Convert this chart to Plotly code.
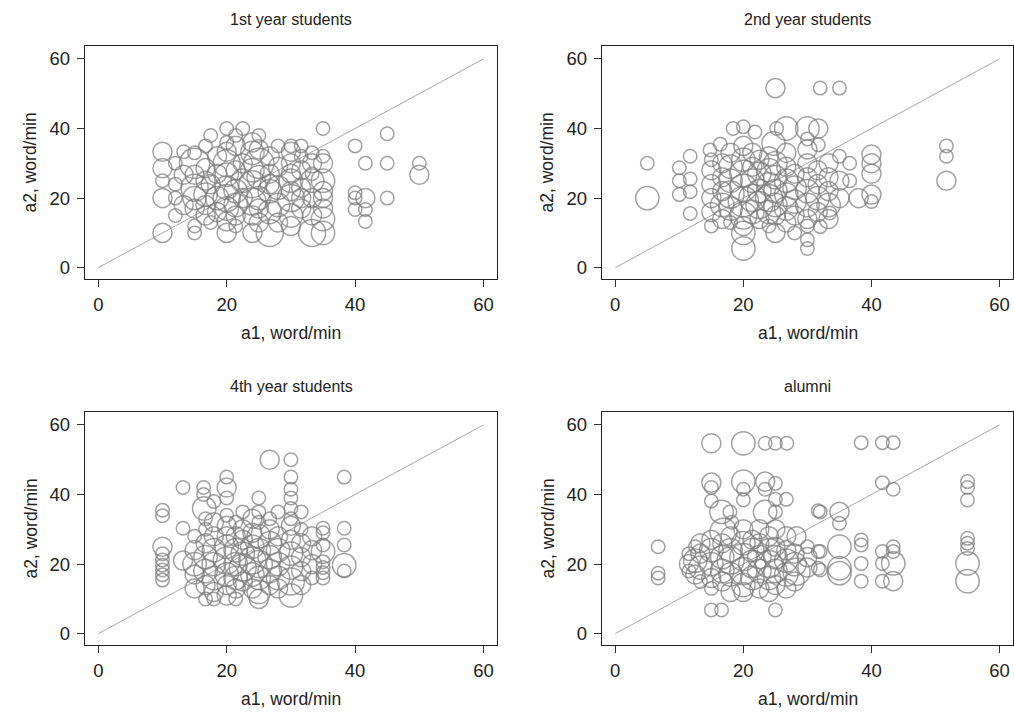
import math
import plotly.graph_objects as go

# ---------------- data: (a1, a2, count) ----------------
TITLES = ["1st year students", "2nd year students", "4th year students", "alumni"]
X_TITLE = "a1, word/min"
Y_TITLE = "a2, word/min"
TICKS = [0, 20, 40, 60]
DIAG = [0, 60]

P1 = [
    (10, 33.3, 2), (10, 28.6, 2), (10, 25, 1), (10, 20, 2), (10, 10, 2),
    (12, 20, 1), (12, 15, 1), (12, 24, 1), (12, 30, 1),
    (13.3, 18, 2), (13.3, 26.7, 2), (13.3, 33.3, 1),
    (15, 10, 1), (15, 12, 1), (15, 17, 2), (15, 20, 3), (15, 23, 4), (15, 26.7, 2), (15, 30, 5), (15, 33, 1),
    (16.7, 15, 2), (16.7, 18, 2), (16.7, 21, 3), (16.7, 25, 2), (16.7, 28.6, 2), (16.7, 35, 1),
    (17.5, 38, 1), (17.5, 13, 1), (17.5, 24, 2),
    (18.5, 20, 3), (18.5, 27, 2), (18.5, 32, 2), (18.5, 16, 2),
    (20, 10, 2), (20, 13.3, 2), (20, 17, 3), (20, 20, 4), (20, 23, 3), (20, 26.7, 3), (20, 30, 4), (20, 33.3, 2), (20, 36, 1), (20, 40, 1),
    (21.4, 12, 1), (21.4, 18, 3), (21.4, 22, 3), (21.4, 28, 2), (21.4, 35, 2), (21.4, 38, 1), (21.4, 15, 2),
    (22.5, 40, 1), (22.5, 25, 3), (22.5, 20, 2), (22.5, 30, 2),
    (24, 10, 2), (24, 15, 2), (24, 19, 4), (24, 24, 4), (24, 28, 3), (24, 33, 3), (24, 36, 2),
    (25, 13, 2), (25, 20, 3), (25, 30, 5), (25, 26, 3), (25, 17, 2), (25, 34, 2), (25, 38, 1),
    (26.7, 10, 4), (26.7, 16, 3), (26.7, 22, 3), (26.7, 27, 2), (26.7, 32, 2), (26.7, 24, 2),
    (28, 18, 3), (28, 23, 3), (28, 29, 2), (28, 35, 1), (28, 13, 2),
    (30, 12, 2), (30, 15, 3), (30, 20, 4), (30, 25, 3), (30, 30, 2), (30, 33.3, 2), (30, 35, 1), (30, 22, 2), (30, 27, 2),
    (31.6, 17, 2), (31.6, 23, 2), (31.6, 28, 2), (31.6, 32, 1), (31.6, 35, 1), (31.6, 20, 2),
    (33.3, 10, 4), (33.3, 15, 2), (33.3, 20, 2), (33.3, 25, 3), (33.3, 30, 2), (33.3, 33, 1), (33.3, 27, 1),
    (35, 10, 3), (35, 14, 3), (35, 17, 2), (35, 22, 2), (35, 25, 3), (35, 30, 2), (35, 32, 1), (35, 40, 1), (35, 20, 2),
    (40, 35, 1), (45, 38.5, 1), (41.6, 30, 1), (45, 30, 1), (50, 30, 1), (50, 26.7, 2),
    (40, 21.5, 1), (40, 20, 1), (41.6, 20, 2), (45, 20, 1), (40, 16.7, 1), (41.6, 16.7, 1), (41.6, 13.3, 1),
]

P2 = [
    (5, 30, 1), (5, 20, 3), (11.7, 32, 1), (10, 28.7, 1), (10, 25, 1), (11.7, 25.5, 1), (11.7, 21.8, 1), (10, 21, 1), (11.7, 15.6, 1),
    (25, 51.6, 2), (32, 51.6, 1), (35, 51.6, 1), (20, 5.5, 3), (30, 5.5, 1),
    (51.7, 35, 1), (51.7, 32, 1), (51.7, 25, 2),
    (40, 32.5, 2), (40, 30, 2), (40, 27, 2), (40, 21, 2), (40, 19, 1), (35, 32, 1), (36.6, 30, 1), (35, 25, 2),
    (36.6, 25, 1), (35, 20, 2), (38, 20, 2), (33.5, 15.7, 1), (32, 11.8, 1),
    (18.4, 40, 1), (20, 40.5, 1), (21.8, 39, 1), (25.2, 40, 1), (26.7, 40, 3), (30, 40, 3), (31.7, 40, 2),
    (16.4, 35.5, 1), (14.8, 33.8, 1), (24.7, 35.7, 3), (30, 37, 1), (31.7, 35.3, 1),
    (15, 12, 1), (15, 16, 2), (15, 20, 2), (15, 24, 2), (15, 28, 2), (15, 31, 1),
    (16.7, 14, 2), (16.7, 18, 3), (16.7, 22, 2), (16.7, 26, 2), (16.7, 30, 2),
    (18, 13, 1), (18, 17, 3), (18, 21, 4), (18, 25, 3), (18, 29, 3), (18, 33, 2),
    (20, 10, 3), (20, 15, 4), (20, 19, 5), (20, 23, 4), (20, 27, 4), (20, 31, 3), (20, 35, 2), (20, 12, 2),
    (21.4, 16, 3), (21.4, 20, 4), (21.4, 25, 3), (21.4, 29, 2), (21.4, 33, 2),
    (22.5, 18, 4), (22.5, 22, 3), (22.5, 27, 3), (22.5, 31, 2), (22.5, 14, 2),
    (24, 12, 1), (24, 16, 3), (24, 20, 4), (24, 24, 3), (24, 28, 3), (24, 32, 2),
    (25, 10, 2), (25, 15, 2), (25, 18, 3), (25, 22, 3), (25, 26, 3), (25, 30, 3),
    (26.7, 13, 2), (26.7, 17, 3), (26.7, 21, 3), (26.7, 25, 3), (26.7, 29, 2), (26.7, 33, 2),
    (28, 15, 2), (28, 19, 3), (28, 23, 3), (28, 27, 2), (28, 10, 1),
    (30, 8, 1), (30, 14, 2), (30, 18, 3), (30, 22, 3), (30, 26, 2), (30, 30, 2), (30, 34, 2), (30, 12, 1),
    (31.6, 16, 2), (31.6, 20, 3), (31.6, 24, 2), (31.6, 28, 2),
    (33.3, 14, 2), (33.3, 18, 3), (33.3, 22, 2), (33.3, 26, 2), (33.3, 30, 2),
]

P3 = [
    (10, 35.5, 1), (10, 33.9, 1), (10, 25, 2), (10, 23, 1), (10, 21.2, 1), (10, 19.7, 1), (10, 18.3, 1), (10, 16.9, 1), (10, 15.4, 1),
    (13.2, 42, 1), (16.4, 42, 1), (16.4, 40, 1), (20, 45, 1), (20, 42, 2), (20, 39, 1),
    (26.7, 50, 2), (30, 50, 1), (30, 45, 1), (30, 41.5, 1), (30, 39, 1), (30, 36, 1), (25, 39, 1),
    (16.5, 36, 3), (13.2, 30.3, 1), (13.2, 21, 2),
    (38.3, 45, 1), (38.3, 30.3, 1), (38.3, 25.5, 1), (38.3, 19.7, 3), (38.3, 18, 1),
    (35, 30.3, 1), (35, 29, 1), (35, 25.5, 1), (35, 23.6, 3), (35, 20.7, 1), (35, 19, 1), (35, 17.5, 1), (35, 16, 1),
    (15, 13, 2), (15, 17, 2), (15, 20, 3), (15, 24, 2), (15, 28, 1),
    (16.7, 10, 1), (16.7, 14, 2), (16.7, 18, 3), (16.7, 22, 3), (16.7, 26, 2), (16.7, 30, 1), (16.7, 33, 1),
    (18, 10, 1), (18, 12, 2), (18, 16, 3), (18, 20, 3), (18, 24, 3), (18, 28, 2), (18, 32, 2), (18, 38, 1),
    (20, 11, 2), (20, 14, 2), (20, 17, 3), (20, 21, 4), (20, 25, 3), (20, 28, 2), (20, 31, 2), (20, 34, 1),
    (21.4, 10, 1), (21.4, 13, 2), (21.4, 16, 3), (21.4, 20, 3), (21.4, 24, 3), (21.4, 28, 2), (21.4, 32, 1),
    (22.5, 15, 2), (22.5, 19, 4), (22.5, 23, 3), (22.5, 27, 2), (22.5, 30, 2), (22.5, 35, 1),
    (24, 13, 2), (24, 17, 3), (24, 21, 4), (24, 25, 3), (24, 29, 2), (24, 33, 2),
    (25, 10, 2), (25, 12, 3), (25, 16, 3), (25, 20, 4), (25, 24, 3), (25, 28, 3), (25, 32, 1), (25, 35, 1),
    (26.7, 14, 2), (26.7, 18, 3), (26.7, 22, 3), (26.7, 26, 3), (26.7, 30, 2), (26.7, 33, 1),
    (28, 13, 2), (28, 16, 3), (28, 20, 3), (28, 24, 3), (28, 28, 2), (28, 35, 1),
    (30, 11, 3), (30, 15, 4), (30, 19, 3), (30, 23, 3), (30, 27, 2), (30, 31, 2), (30, 33, 1),
    (31.6, 14, 2), (31.6, 18, 2), (31.6, 22, 2), (31.6, 26, 2), (31.6, 30, 1), (31.6, 35, 1),
    (33.3, 16, 1), (33.3, 20, 2), (33.3, 24, 2), (33.3, 28, 2),
]

P4 = [
    (15, 54.7, 2), (20, 54.7, 3), (23.4, 54.7, 1), (25, 54.7, 1), (26.8, 54.7, 1),
    (38.4, 54.9, 1), (41.7, 54.9, 1), (43.4, 54.9, 1),
    (41.7, 43.4, 1), (43.4, 41.5, 1), (55, 43.7, 1), (55, 42, 1), (55, 38.4, 1),
    (35, 35, 2), (35, 31.7, 1), (32, 35, 1),
    (38.4, 26.9, 1), (38.4, 25.5, 1), (38.4, 20.2, 1), (38.4, 15.1, 1),
    (35, 25, 3), (35, 18.8, 3), (35, 17.4, 3), (32, 23.6, 1), (32, 18.3, 1),
    (41.7, 23.6, 1), (41.7, 20.2, 1), (41.7, 15.1, 1), (43.4, 25, 1), (43.4, 23.6, 1), (43.4, 20.2, 3), (43.4, 15.1, 2),
    (55, 27.4, 1), (55, 26, 1), (55, 24.5, 1), (55, 20.2, 3), (55, 15.1, 3),
    (15, 43.4, 2), (15, 42, 1), (15, 38.1, 1), (20, 43.7, 3), (20, 41.5, 1), (23.4, 43.7, 2), (23.4, 41.5, 1),
    (25, 43.2, 1), (25, 38.6, 1), (26.7, 38.6, 1), (20, 38.4, 1),
    (16.6, 35, 3), (17.9, 35, 1), (23.4, 35, 3), (25, 35, 1), (18.2, 32, 1),
    (31.7, 35.3, 1), (31.7, 23.6, 1), (31.7, 18.8, 1),
    (6.7, 25, 1), (6.7, 17.4, 1), (6.7, 16, 1), (15, 6.8, 1), (16.6, 6.8, 1), (25, 6.8, 1),
    (16.9, 29.3, 4), (28.3, 28, 2), (28.3, 17.8, 4),
    (11.5, 20, 2), (11.5, 23, 1), (11.5, 18, 1),
    (12.5, 17, 2), (12.5, 21, 3), (12.5, 25, 1),
    (13.3, 19, 3), (13.3, 23, 2), (13.3, 26, 2), (13.3, 15, 1),
    (15, 13, 1), (15, 16, 2), (15, 20, 3), (15, 24, 3), (15, 27, 2),
    (16.7, 15, 2), (16.7, 18, 3), (16.7, 22, 3), (16.7, 26, 2),
    (18, 12, 2), (18, 17, 3), (18, 21, 4), (18, 24, 3), (18, 28, 2),
    (20, 14, 3), (20, 18, 4), (20, 22, 4), (20, 26, 3), (20, 12, 2), (20, 30, 2),
    (21.4, 16, 3), (21.4, 20, 4), (21.4, 24, 3), (21.4, 27, 2),
    (22.5, 13, 2), (22.5, 18, 3), (22.5, 22, 3), (22.5, 26, 2), (22.5, 30, 2),
    (24, 12, 2), (24, 16, 3), (24, 20, 4), (24, 24, 3), (24, 28, 2),
    (25, 14, 2), (25, 18, 3), (25, 22, 3), (25, 25, 2), (25, 30, 2),
    (26.7, 13, 2), (26.7, 17, 3), (26.7, 21, 3), (26.7, 24, 2), (26.7, 28, 2),
    (28, 15, 2), (28, 20, 3), (28, 23, 2),
    (30, 19, 2), (30, 22, 2), (30, 25, 1),
]

PANELS = [P1, P2, P3, P4]

# ---------------- layout geometry ----------------
W, H = 1014, 713
XDOM = [[85 / W, 497 / W], [602 / W, 1013 / W]]
YDOM = [[1 - 279 / H, 1 - 46 / H], [1 - 645 / H, 1 - 412 / H]]
XR = [-2.07, 62.1]
YR = [-3.25, 63.7]

FONT = "Liberation Sans, Arial, sans-serif"
TXT = "#222222"
CIRC = "#7a7a7a"

fig = go.Figure()
layout = dict(
    width=W, height=H, margin=dict(l=0, r=0, t=0, b=0),
    paper_bgcolor="white", plot_bgcolor="white", showlegend=False,
    font=dict(family=FONT, color=TXT),
)
annotations = []

for i, pts in enumerate(PANELS):
    r, c = divmod(i, 2)
    k = "" if i == 0 else str(i + 1)
    xa, ya = "x" + k, "y" + k
    common = dict(
        tickvals=TICKS, ticks="outside", ticklen=7, tickwidth=1.2,
        tickcolor="#333333", showline=True, mirror=True, linecolor="#222222",
        linewidth=1.3, showgrid=False, zeroline=False,
        tickfont=dict(family=FONT, size=18.5, color=TXT),
    )
    xaxis = dict(common, range=XR, domain=XDOM[c], anchor=ya, ticklabelstandoff=2)
    yaxis = dict(common, range=YR, domain=YDOM[r], anchor=xa, ticklabelstandoff=3)
    layout["xaxis" + k] = xaxis
    layout["yaxis" + k] = yaxis

    fig.add_trace(go.Scatter(
        x=DIAG, y=DIAG, mode="lines", xaxis=xa, yaxis=ya,
        line=dict(color="#a8a8a8", width=1), hoverinfo="skip",
    ))
    xs = [p[0] for p in pts]
    ys = [p[1] for p in pts]
    ns = [p[2] for p in pts]
    fig.add_trace(go.Scatter(
        x=xs, y=ys, mode="markers", xaxis=xa, yaxis=ya,
        marker=dict(symbol="circle-open", size=[13.5 * math.sqrt(n) for n in ns],
                    color=CIRC, line=dict(width=1.5)),
    ))

    xmid = (XDOM[c][0] + XDOM[c][1]) / 2
    ytop = YDOM[r][1]
    ybot = YDOM[r][0]
    annotations.append(dict(
        text=TITLES[i], x=xmid, y=ytop + 26 / H, xref="paper", yref="paper",
        xanchor="center", yanchor="middle", showarrow=False,
        font=dict(family=FONT, size=16, color=TXT),
    ))
    annotations.append(dict(
        text=X_TITLE, x=xmid, y=ybot - 54 / H, xref="paper", yref="paper",
        xanchor="center", yanchor="middle", showarrow=False,
        font=dict(family=FONT, size=17.5, color=TXT),
    ))
    annotations.append(dict(
        text=Y_TITLE, x=XDOM[c][0] - 55 / W, y=(YDOM[r][0] + YDOM[r][1]) / 2,
        xref="paper", yref="paper", xanchor="center", yanchor="middle",
        textangle=-90, showarrow=False,
        font=dict(family=FONT, size=17.5, color=TXT),
    ))

layout["annotations"] = annotations
fig.update_layout(**layout)
fig.write_html("out.html")
